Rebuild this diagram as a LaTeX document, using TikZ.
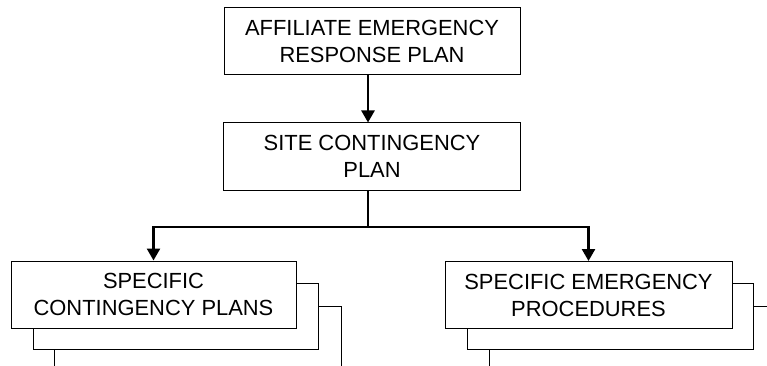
\documentclass[tikz,border=0pt]{standalone}
\usepackage{fontspec}
\setmainfont{Liberation Sans}
\usetikzlibrary{arrows.meta}
\begin{document}
\begin{tikzpicture}[x=1pt,y=-1pt,
  box/.style={draw,fill=white,line width=1pt,inner sep=0pt,align=center,
    minimum height=67pt,font=\fontsize{21.9}{27}\selectfont},
  layer/.style={draw,fill=white,line width=1pt,minimum height=66pt,inner sep=0pt},
  arr/.style={line width=2.5pt,-{Triangle[length=12pt,width=13pt]}},
  bus/.style={line width=2.5pt}]
\clip (0,0) rectangle (767,366);
\fill[white] (0,0) rectangle (767,366);

% top of the hierarchy
\node[box,minimum width=296pt] (aerp) at (372,41.5) {AFFILIATE EMERGENCY\\RESPONSE PLAN};
\node[box,minimum width=297pt] (site) at (372,156.5) {SITE CONTINGENCY\\PLAN};

% stacked sheets behind the contingency plans
\node[layer,minimum width=287pt] (cp3) at (197.5,339) {};
\node[layer,minimum width=285pt] (cp2) at (175.5,316) {};
\node[box,minimum width=285pt] (cp) at (153.5,294.5) {SPECIFIC\\CONTINGENCY PLANS};

% stacked sheets behind the emergency procedures
\node[layer,minimum width=286pt] (ep3) at (632,339) {};
\node[layer,minimum width=286pt] (ep2) at (610,316) {};
\node[box,minimum width=287pt] (ep) at (588.5,295) {SPECIFIC EMERGENCY\\PROCEDURES};

% connectors (the spine runs a little left of the box centres)
\coordinate (spineTop) at ([xshift=-4pt]aerp.south);
\coordinate (spineIn) at ([xshift=-4pt]site.north);
\coordinate (spineOut) at ([xshift=-4pt]site.south);
\coordinate (busL) at (cp.north |- 0,227);
\coordinate (busR) at (ep.north |- 0,227);
\coordinate (busM) at (spineOut |- 0,227);
\draw[arr] (spineTop) -- (spineIn);
\draw[bus] (spineOut) -- (busM);
\draw[bus,line cap=rect] (busL) -- (busR);
\draw[arr] (busL) -- (cp.north);
\draw[arr] (busR) -- (ep.north);
\end{tikzpicture}
\end{document}
